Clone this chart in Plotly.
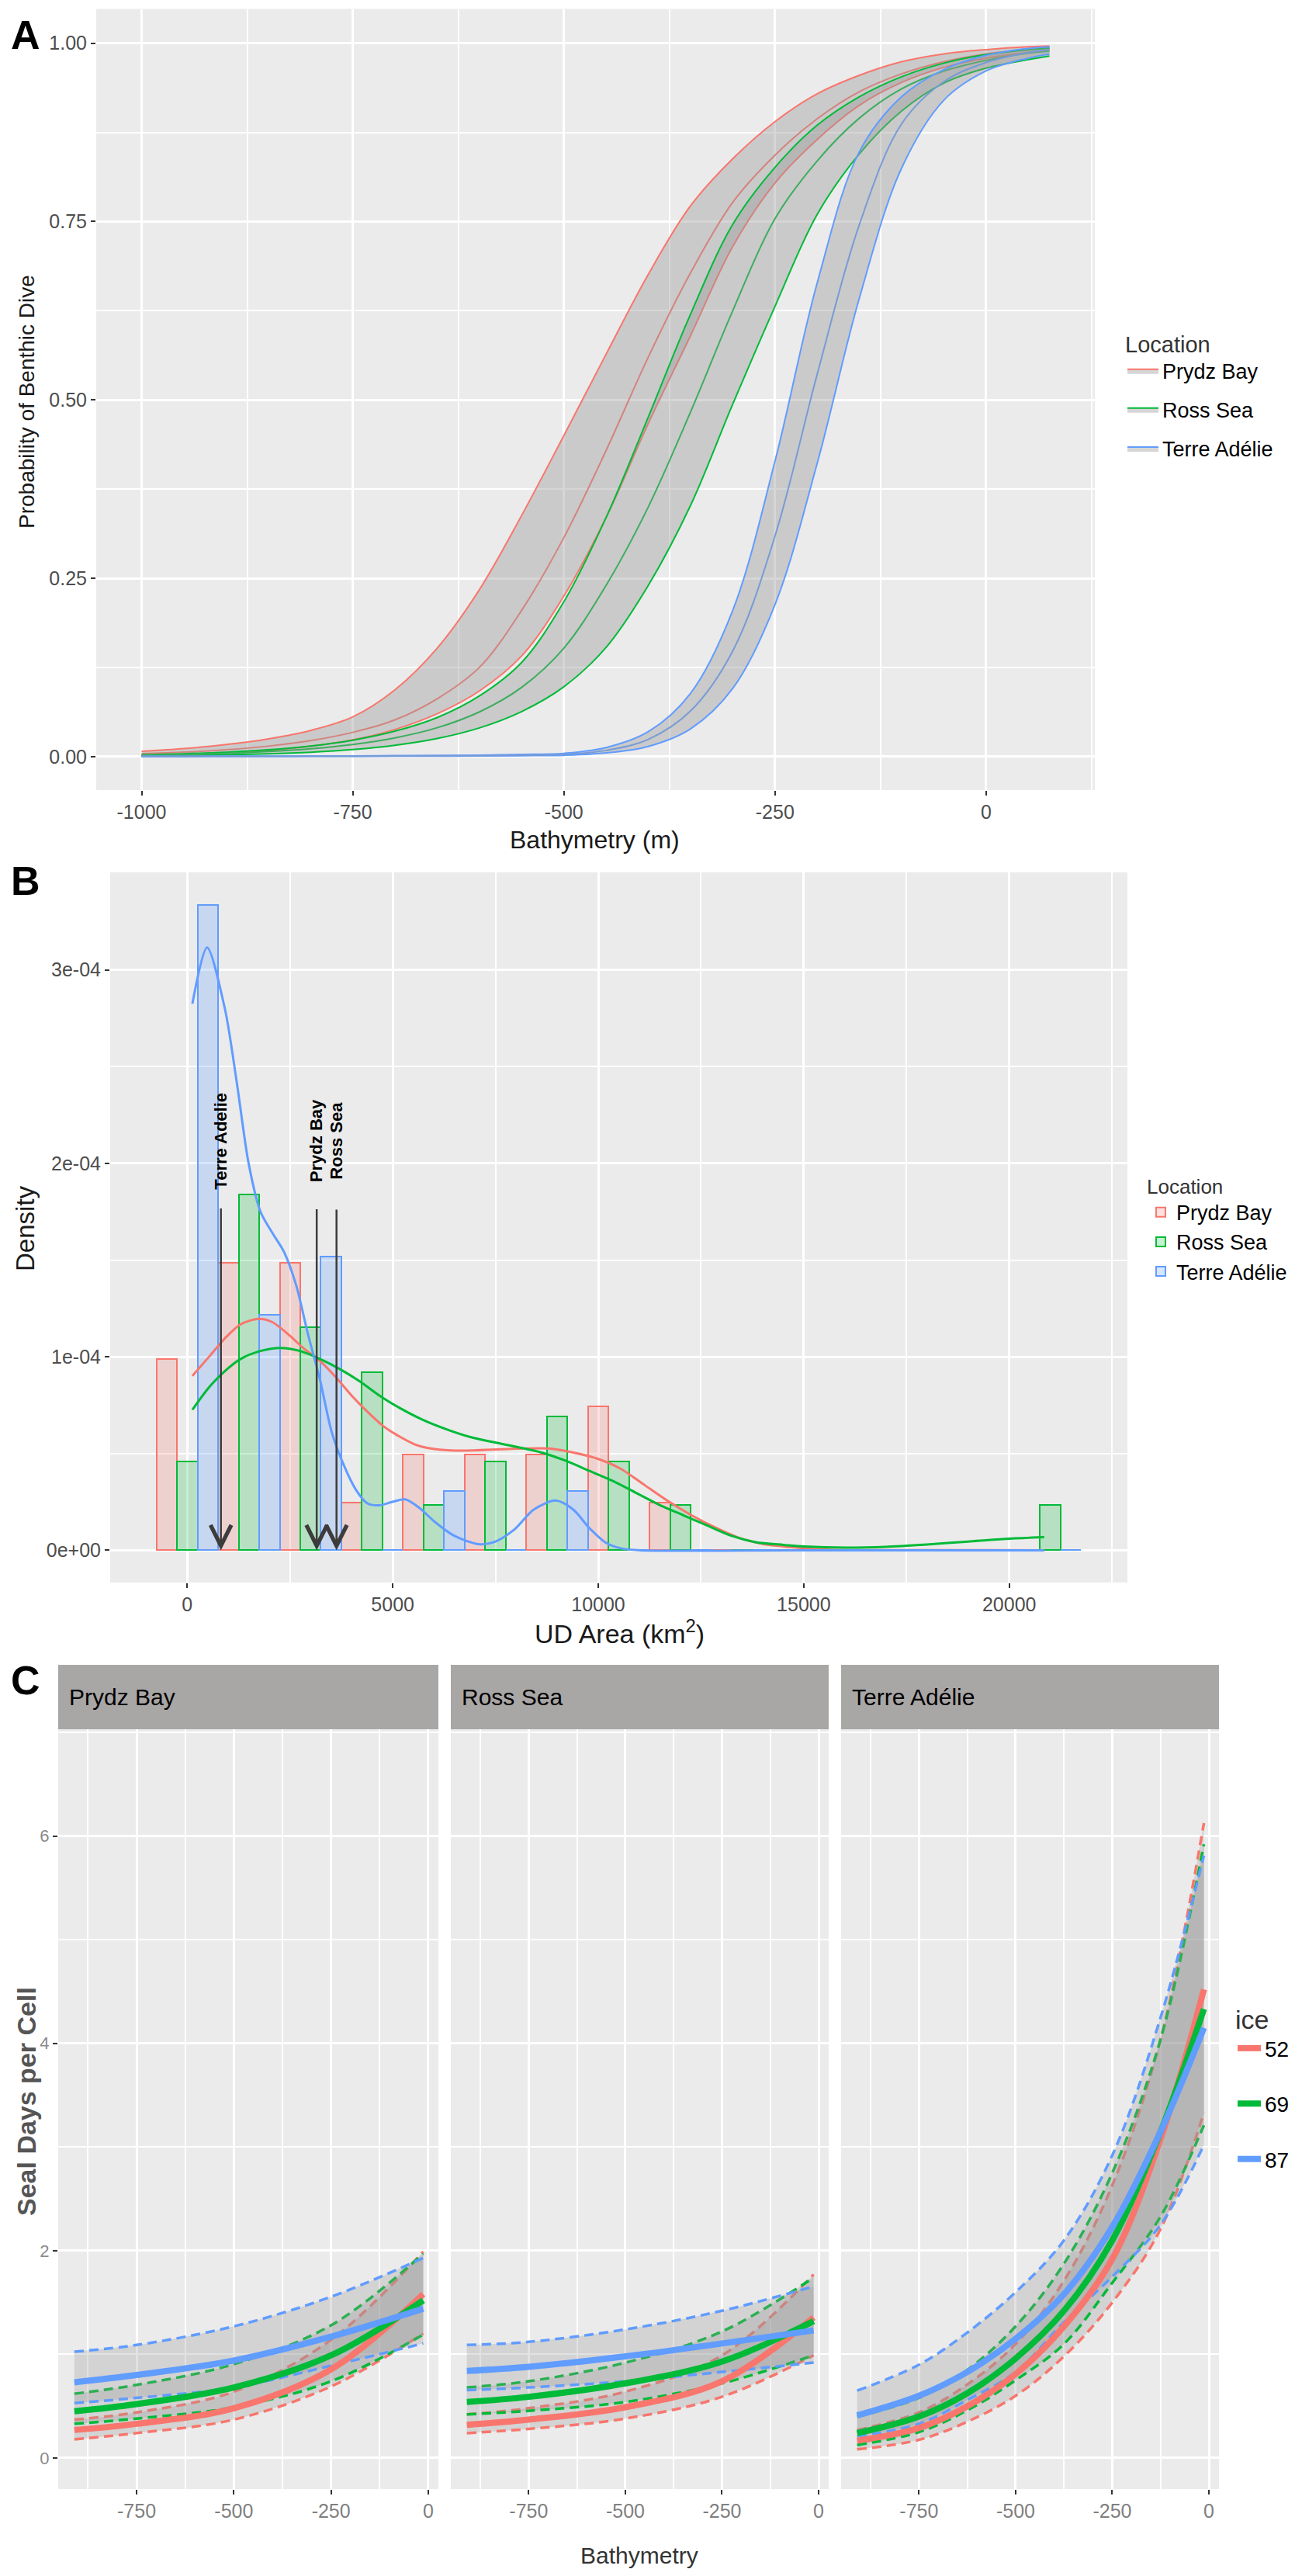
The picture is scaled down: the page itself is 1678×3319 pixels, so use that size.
import plotly.graph_objects as go

W, H = 1678, 3319

RED, GREEN, BLUE = "#F8766D", "#00BA38", "#619CFF"
RED_DK, GREEN_DK, BLUE_DK = "#D2847E", "#3DAD5F", "#779BD6"
NARROW = "Liberation Sans Narrow, Liberation Sans, Arial, sans-serif"
SANS = "Liberation Sans, Arial, sans-serif"

# ---------------- panel A: probability of benthic dive vs bathymetry
bathy_a = [-1000, -950, -900, -850, -800, -750, -700, -650, -600, -550, -500, -450,
           -400, -350, -300, -250, -200, -150, -100, -50, 0, 50, 75]

prydz_upper = [0.0075, 0.0112, 0.0168, 0.0249, 0.0366, 0.0556, 0.0936, 0.152, 0.234, 0.338, 0.450, 0.564,
               0.676, 0.772, 0.838, 0.890, 0.929, 0.955, 0.974, 0.985, 0.991, 0.995, 0.996]
prydz_fit = [0.0041, 0.0062, 0.0096, 0.0146, 0.0223, 0.0339, 0.0514, 0.081, 0.125, 0.205, 0.307, 0.429,
             0.560, 0.678, 0.777, 0.843, 0.894, 0.932, 0.957, 0.974, 0.985, 0.991, 0.993]
prydz_lower = [0.0020, 0.0033, 0.0054, 0.0088, 0.0145, 0.0234, 0.038, 0.060, 0.092, 0.141, 0.225, 0.335,
               0.467, 0.590, 0.715, 0.804, 0.865, 0.913, 0.945, 0.966, 0.979, 0.987, 0.990]

ross_upper = [0.0025, 0.0039, 0.0061, 0.0095, 0.0148, 0.023, 0.0356, 0.0547, 0.085, 0.132, 0.217, 0.335,
              0.476, 0.620, 0.746, 0.826, 0.885, 0.925, 0.953, 0.972, 0.984, 0.991, 0.993]
ross_fit = [0.0018, 0.0029, 0.0045, 0.0070, 0.0109, 0.0169, 0.0262, 0.0404, 0.0626, 0.097, 0.152, 0.240,
            0.350, 0.483, 0.625, 0.754, 0.835, 0.895, 0.936, 0.961, 0.976, 0.986, 0.989]
ross_lower = [0.0009, 0.0015, 0.0024, 0.0038, 0.0061, 0.0098, 0.0158, 0.0253, 0.0402, 0.0631, 0.0978, 0.153,
              0.240, 0.352, 0.494, 0.631, 0.760, 0.845, 0.905, 0.944, 0.965, 0.977, 0.982]

terre_upper = [0.00034, 0.00042, 0.00052, 0.00065, 0.00081, 0.0010, 0.0013, 0.0016, 0.0020, 0.0030, 0.0045, 0.0126,
               0.0349, 0.0887, 0.205, 0.414, 0.664, 0.848, 0.925, 0.963, 0.983, 0.9925, 0.995]
terre_fit = [0.00022, 0.00027, 0.00034, 0.00041, 0.0005, 0.0006, 0.00077, 0.00098, 0.0012, 0.0019, 0.003, 0.0086,
             0.0241, 0.0639, 0.148, 0.309, 0.536, 0.746, 0.887, 0.946, 0.973, 0.987, 0.991]
terre_lower = [0.00015, 0.00018, 0.00022, 0.00026, 0.00031, 0.00037, 0.00047, 0.00059, 0.00075, 0.0012, 0.0018, 0.0051,
               0.0142, 0.0388, 0.0956, 0.213, 0.411, 0.643, 0.825, 0.920, 0.961, 0.979, 0.985]

# ---------------- panel B: UD area histogram + density
ud_bins = [0, 1500, 3000, 4500, 6000, 7500, 9000, 10500, 12000, 13500, 15000, 16500, 18000, 19500, 21000]
prydz_hist = [0.99e-4, 1.486e-4, 1.486e-4, 0.248e-4, 0.495e-4, 0.495e-4, 0.495e-4, 0.743e-4, 0.248e-4,
              0, 0, 0, 0, 0, 0]
ross_hist = [0.46e-4, 1.838e-4, 1.154e-4, 0.919e-4, 0.235e-4, 0.46e-4, 0.69e-4, 0.46e-4, 0.235e-4,
             0, 0, 0, 0, 0, 0.235e-4]
terre_hist = [3.337e-4, 1.218e-4, 1.519e-4, 0, 0.306e-4, 0, 0.306e-4, 0, 0,
              0, 0, 0, 0, 0, 0]

prydz_kde_x = [125, 530, 915, 1300, 1734, 2071, 2457, 2842, 3227, 3613, 3998, 4383, 4769, 5154, 5540, 5925,
               6407, 6985, 7659, 8237, 8815, 9393, 9971, 10549, 11127, 11705, 12283, 12861, 13439, 14017,
               14500, 15000, 15500, 16000, 20850]
prydz_kde_y = [0.901e-4, 1.0e-4, 1.095e-4, 1.168e-4, 1.196e-4, 1.179e-4, 1.116e-4, 1.042e-4, 0.979e-4, 0.895e-4,
               0.8e-4, 0.716e-4, 0.642e-4, 0.589e-4, 0.547e-4, 0.526e-4, 0.516e-4, 0.516e-4, 0.522e-4, 0.526e-4,
               0.526e-4, 0.505e-4, 0.474e-4, 0.421e-4, 0.337e-4, 0.253e-4, 0.179e-4, 0.116e-4, 0.063e-4, 0.032e-4,
               0.02e-4, 0.01e-4, 0.004e-4, 0.001e-4, 0.0]
ross_kde_x = [125, 530, 915, 1300, 1782, 2264, 2746, 3227, 3709, 4191, 4672, 5154, 5732, 6310, 6888, 7466,
              8044, 8622, 9200, 9778, 10356, 10934, 11513, 12091, 12669, 13247, 13825, 14500, 15000, 16000,
              17000, 18000, 19000, 20000, 20850]
ross_kde_y = [0.726e-4, 0.842e-4, 0.926e-4, 0.989e-4, 1.03e-4, 1.046e-4, 1.03e-4, 0.989e-4, 0.937e-4, 0.874e-4,
              0.8e-4, 0.737e-4, 0.674e-4, 0.625e-4, 0.585e-4, 0.558e-4, 0.533e-4, 0.505e-4, 0.463e-4, 0.411e-4,
              0.358e-4, 0.295e-4, 0.232e-4, 0.179e-4, 0.126e-4, 0.074e-4, 0.042e-4, 0.028e-4, 0.02e-4, 0.014e-4,
              0.018e-4, 0.03e-4, 0.045e-4, 0.06e-4, 0.068e-4]
terre_kde_x = [125, 482, 915, 1204, 1493, 1782, 2071, 2360, 2650, 2938, 3227, 3516, 3805, 4094, 4383, 4672,
               4961, 5299, 5636, 6021, 6503, 7081, 7466, 7948, 8430, 8960, 9393, 9778, 10164, 10549, 11031,
               15000, 20850]
terre_kde_y = [2.825e-4, 3.116e-4, 2.8e-4, 2.42e-4, 2.0e-4, 1.75e-4, 1.64e-4, 1.54e-4, 1.37e-4, 1.116e-4,
               0.884e-4, 0.61e-4, 0.442e-4, 0.316e-4, 0.242e-4, 0.232e-4, 0.248e-4, 0.263e-4, 0.221e-4, 0.147e-4,
               0.074e-4, 0.032e-4, 0.042e-4, 0.105e-4, 0.21e-4, 0.257e-4, 0.21e-4, 0.116e-4, 0.042e-4, 0.01e-4,
               0.0, 0.0, 0.0]

mean_labels = ["Terre Adelie", "Prydz Bay", "Ross Sea"]
mean_area = [819, 3150, 3632]
label_mid = 2.116e-4
label_gap = [23, 33, 37]  # px between label and top of arrow shaft

# ---------------- panel C: seal days per cell vs bathymetry, by ice
facets = ["Prydz Bay", "Ross Sea", "Terre Adélie"]
ice_levels = ["52", "69", "87"]

bathy_c_flat = [-910, -750, -500, -250, -13]
bathy_c_steep = [-910, -750, -625, -500, -375, -250, -125, -13]

pb_fit = {"52": [0.27, 0.33, 0.48, 0.855, 1.58], "69": [0.45, 0.52, 0.68, 0.99, 1.52],
          "87": [0.73, 0.80, 0.94, 1.17, 1.44]}
pb_lo = {"52": [0.18, 0.24, 0.37, 0.69, 1.2], "69": [0.33, 0.38, 0.49, 0.74, 1.19],
         "87": [0.53, 0.58, 0.68, 0.89, 1.105]}
pb_hi = {"52": [0.37, 0.44, 0.64, 1.14, 1.99], "69": [0.62, 0.705, 0.905, 1.28, 1.97],
         "87": [1.025, 1.09, 1.27, 1.555, 1.93]}

rs_fit = {"52": [0.32, 0.37, 0.49, 0.74, 1.355], "69": [0.54, 0.59, 0.72, 0.93, 1.32],
          "87": [0.84, 0.88, 0.98, 1.105, 1.23]}
rs_lo = {"52": [0.24, 0.28, 0.38, 0.59, 0.99], "69": [0.42, 0.455, 0.54, 0.72, 0.99],
         "87": [0.655, 0.68, 0.74, 0.83, 0.92]}
rs_hi = {"52": [0.42, 0.48, 0.64, 0.99, 1.77], "69": [0.68, 0.74, 0.92, 1.22, 1.74],
         "87": [1.09, 1.12, 1.24, 1.42, 1.655]}

ta_fit = {"52": [0.167, 0.29, 0.50, 0.81, 1.27, 1.92, 3.08, 4.52],
          "69": [0.24, 0.40, 0.625, 0.96, 1.42, 2.10, 3.15, 4.33],
          "87": [0.41, 0.60, 0.83, 1.15, 1.58, 2.23, 3.15, 4.15]}
ta_lo = {"52": [0.083, 0.175, 0.35, 0.60, 0.98, 1.50, 2.21, 3.33],
         "69": [0.125, 0.25, 0.46, 0.75, 1.10, 1.69, 2.33, 3.21],
         "87": [0.21, 0.33, 0.56, 0.83, 1.31, 1.75, 2.25, 3.02]}
ta_hi = {"52": [0.27, 0.44, 0.71, 1.10, 1.71, 2.63, 4.04, 6.125],
         "69": [0.40, 0.58, 0.85, 1.27, 1.875, 2.75, 4.04, 5.92],
         "87": [0.65, 0.90, 1.21, 1.60, 2.10, 2.92, 4.25, 5.81]}


def xd(left, right):
    return [left / W, right / W]


def yd(top, bottom):
    return [1 - bottom / H, 1 - top / H]


def axis(**kw):
    base = dict(showgrid=True, gridcolor="white", gridwidth=3, zeroline=False, showline=False,
                ticks="outside", ticklen=6, tickwidth=2, tickcolor="#333333",
                tickfont=dict(family=NARROW, size=25, color="#4D4D4D"))
    base.update(kw)
    return base


def minor(dtick, tick0=0):
    return dict(tickmode="linear", tick0=tick0, dtick=dtick, showgrid=True,
                gridcolor="white", gridwidth=1.5, ticks="")


fig = go.Figure()

# ---- panel A traces
ribbon_a = "rgba(153,153,153,0.4)"
for name, col, dark, up, fit, lo in [
    ("Prydz Bay", RED, RED_DK, prydz_upper, prydz_fit, prydz_lower),
    ("Ross Sea", GREEN, GREEN_DK, ross_upper, ross_fit, ross_lower),
    ("Terre Adélie", BLUE, BLUE_DK, terre_upper, terre_fit, terre_lower),
]:
    fig.add_trace(go.Scatter(x=bathy_a, y=up, mode="lines", line=dict(color=col, width=2, shape="spline"),
                             showlegend=False, hoverinfo="skip", legendgroup="A" + name))
    fig.add_trace(go.Scatter(x=bathy_a, y=lo, mode="lines", fill="tonexty", fillcolor=ribbon_a,
                             line=dict(color=col, width=2, shape="spline"), name=name,
                             legend="legend", legendgroup="A" + name))
    fig.add_trace(go.Scatter(x=bathy_a, y=fit, mode="lines", line=dict(color=dark, width=2, shape="spline"),
                             showlegend=False, legendgroup="A" + name))

# ---- panel B traces
for name, col, fill, vals in [
    ("Prydz Bay", RED, "rgba(248,118,109,0.22)", prydz_hist),
    ("Ross Sea", GREEN, "rgba(0,186,56,0.22)", ross_hist),
    ("Terre Adélie", BLUE, "rgba(97,156,255,0.25)", terre_hist),
]:
    fig.add_trace(go.Bar(x=ud_bins, y=vals, xaxis="x2", yaxis="y2", name=name, legend="legend2",
                         marker=dict(color=fill, line=dict(color=col, width=2))))

for col, kx, ky in [(RED, prydz_kde_x, prydz_kde_y), (GREEN, ross_kde_x, ross_kde_y),
                    (BLUE, terre_kde_x, terre_kde_y)]:
    fig.add_trace(go.Scatter(x=kx, y=ky, xaxis="x2", yaxis="y2", mode="lines",
                             line=dict(color=col, width=3, shape="spline", smoothing=0.8),
                             showlegend=False))

# ---- panel C traces
ice_col = {"52": RED, "69": GREEN, "87": BLUE}
facet_data = [
    ("x3", "y3", bathy_c_flat, pb_fit, pb_lo, pb_hi),
    ("x4", "y4", bathy_c_flat, rs_fit, rs_lo, rs_hi),
    ("x5", "y5", bathy_c_steep, ta_fit, ta_lo, ta_hi),
]
for k, (xa, ya, bx, fit, lo, hi) in enumerate(facet_data):
    for lvl in ice_levels:
        fig.add_trace(go.Scatter(x=bx, y=hi[lvl], xaxis=xa, yaxis=ya, mode="lines",
                                 line=dict(color=ice_col[lvl], width=3.5, dash="12px,7px", shape="spline"),
                                 showlegend=False, hoverinfo="skip"))
        fig.add_trace(go.Scatter(x=bx, y=lo[lvl], xaxis=xa, yaxis=ya, mode="lines", fill="tonexty",
                                 fillcolor="rgba(150,150,150,0.28)",
                                 line=dict(color=ice_col[lvl], width=3.5, dash="12px,7px", shape="spline"),
                                 showlegend=False, hoverinfo="skip"))
    for lvl in ice_levels:
        fig.add_trace(go.Scatter(x=bx, y=fit[lvl], xaxis=xa, yaxis=ya, mode="lines",
                                 line=dict(color=ice_col[lvl], width=8, shape="spline"),
                                 name=lvl, legend="legend3", legendgroup="C" + lvl,
                                 showlegend=(k == 0)))

# ---- annotations
ann = []
for txt, ypx in [("A", 6), ("B", 1096), ("C", 2126)]:
    ann.append(dict(text="<b>%s</b>" % txt, x=4 / W, y=1 - ypx / H, xref="paper", yref="paper",
                    xanchor="left", yanchor="top", showarrow=False,
                    font=dict(family=SANS, size=52, color="black")))

titles = [
    ("Probability of Benthic Dive", 27, 510, -90, SANS, 28, "#1a1a1a"),
    ("Bathymetry (m)", 758, 1074, 0, NARROW, 32, "#1a1a1a"),
    ("Density", 24, 1575, -90, SANS, 33, "#1a1a1a"),
    ("UD Area (km<sup>2</sup>)", 790, 2094, 0, NARROW, 34, "#1a1a1a"),
    ("<b>Seal Days per Cell</b>", 26, 2700, -90, SANS, 34, "#555555"),
    ("Bathymetry", 816, 3284, 0, NARROW, 30, "#333333"),
]
for txt, xp, yp, ang, fam, size, col in titles:
    ann.append(dict(text=txt, x=xp / W, y=1 - yp / H, xref="paper", yref="paper", textangle=ang,
                    xanchor="center", yanchor="middle", showarrow=False,
                    font=dict(family=fam, size=size, color=col)))

# mean-area labels with their arrows pointing down to the x axis
for lab, xv, gap in zip(mean_labels, mean_area, label_gap):
    ann.append(dict(x=xv, y=0, xref="x2", yref="y2", ax=xv, ay=label_mid, axref="x2", ayref="y2",
                    text="<b>%s</b>" % lab, textangle=-90, showarrow=True, arrowhead=5,
                    arrowsize=2.1, arrowwidth=2.5, arrowcolor="#3C3C3C", startstandoff=gap,
                    font=dict(family=SANS, size=22, color="black")))

facet_px = [(67, 557), (573, 1060), (1076, 1563)]
shapes = []
for name, (l, r) in zip(facets, facet_px):
    shapes.append(dict(type="rect", xref="paper", yref="paper", x0=l / W, x1=r / W,
                       y0=1 - 2220 / H, y1=1 - 2137 / H, fillcolor="#A9A6A6", line=dict(width=0),
                       layer="below"))
    ann.append(dict(text=name, x=(l + 12) / W, y=1 - 2178 / H, xref="paper", yref="paper",
                    xanchor="left", yanchor="middle", showarrow=False,
                    font=dict(family=NARROW, size=30, color="black")))

c_x = dict(range=[-951.5, 26], tickvals=[-750, -500, -250, 0], ticktext=["-750", "-500", "-250", "0"],
           minor=minor(125))
c_y = dict(range=[-0.3, 7.03], domain=yd(2220, 3199), tickvals=[0, 2, 4, 6], ticktext=["0", "2", "4", "6"],
           minor=minor(1))
c_tick = dict(family=NARROW, size=25, color="#7F7F7F")

fig.update_layout(
    width=W, height=H, autosize=False,
    margin=dict(l=0, r=0, t=0, b=0),
    paper_bgcolor="white", plot_bgcolor="#EBEBEB",
    barmode="group", bargap=0, bargroupgap=0,
    xaxis=axis(domain=xd(116, 1403), anchor="y", range=[-1053.75, 128.75],
               tickvals=[-1000, -750, -500, -250, 0], ticktext=["-1000", "-750", "-500", "-250", "0"],
               minor=minor(125)),
    yaxis=axis(domain=yd(3.5, 1010), anchor="x", range=[-0.047, 1.048],
               tickvals=[0, 0.25, 0.5, 0.75, 1], ticktext=["0.00", "0.25", "0.50", "0.75", "1.00"],
               minor=minor(0.125)),
    xaxis2=axis(domain=xd(134, 1445), anchor="y2", range=[-1875, 22875],
                tickvals=[0, 5000, 10000, 15000, 20000], ticktext=["0", "5000", "10000", "15000", "20000"],
                minor=minor(2500)),
    yaxis2=axis(domain=yd(1116, 2031), anchor="x2", range=[-0.167e-4, 3.504e-4],
                tickvals=[0, 1e-4, 2e-4, 3e-4], ticktext=["0e+00", "1e-04", "2e-04", "3e-04"],
                minor=minor(0.5e-4)),
    xaxis3=axis(domain=xd(67, 557), anchor="y3", tickfont=c_tick, **c_x),
    xaxis4=axis(domain=xd(573, 1060), anchor="y4", tickfont=c_tick, **c_x),
    xaxis5=axis(domain=xd(1076, 1563), anchor="y5", tickfont=c_tick, **c_x),
    yaxis3=axis(anchor="x3", tickfont=dict(family=NARROW, size=22, color="#8A8A8A"), **c_y),
    yaxis4=axis(anchor="x4", showticklabels=False, ticks="", **c_y),
    yaxis5=axis(anchor="x5", showticklabels=False, ticks="", **c_y),
    legend=dict(x=1440 / W, y=1 - 408 / H, xanchor="left", yanchor="top", bgcolor="rgba(0,0,0,0)",
                title=dict(text="Location", font=dict(family=SANS, size=29, color="#333333")),
                font=dict(family=SANS, size=27, color="black"), tracegroupgap=12, itemwidth=40),
    legend2=dict(x=1468 / W, y=1 - 1496 / H, xanchor="left", yanchor="top", bgcolor="rgba(0,0,0,0)",
                 title=dict(text="Location", font=dict(family=NARROW, size=26, color="#333333")),
                 font=dict(family=NARROW, size=27, color="black"), tracegroupgap=0),
    legend3=dict(x=1582 / W, y=1 - 2562 / H, xanchor="left", yanchor="top", bgcolor="rgba(0,0,0,0)",
                 title=dict(text="ice", font=dict(family=NARROW, size=34, color="#333333")),
                 font=dict(family=NARROW, size=28, color="black"), tracegroupgap=32, itemwidth=30),
    annotations=ann,
    shapes=shapes,
)

fig.write_html("out.html")
